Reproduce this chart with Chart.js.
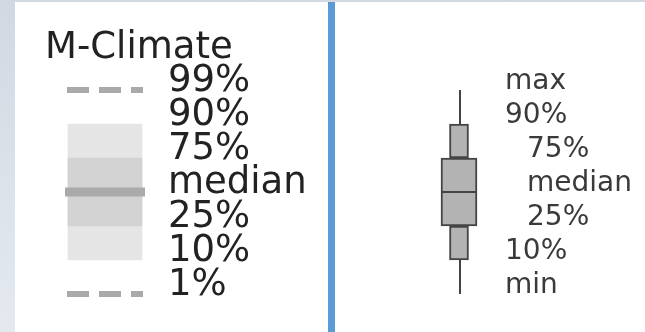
<!DOCTYPE html>
<html>
<head>
<meta charset="utf-8">
<script src="https://cdn.jsdelivr.net/npm/chart.js@4/dist/chart.umd.min.js"></script>
<style>
  html, body { margin: 0; padding: 0; }
  body {
    width: 645px; height: 332px; overflow: hidden; position: relative;
    background: linear-gradient(180deg, #d2d8e2 0%, #dde3eb 60%, #e4e9f0 100%);
  }
  .panel { position: absolute; top: 2px; bottom: 0; background: #fff; }
  #left { left: 15px; width: 313px; }
  #sep { position: absolute; top: 2px; bottom: 0; left: 328px; width: 7px; background: #5b9bd5; }
  #right { left: 335px; right: 0; }
  canvas { position: absolute; left: 0; top: 0; }
</style>
</head>
<body>
<div class="panel" id="left"></div>
<div id="sep"></div>
<div class="panel" id="right"></div>
<canvas id="myChart" width="645" height="332"></canvas>
<script>
// legend levels, top to bottom (6 = highest)
const levels = [6, 5, 4, 3, 2, 1, 0];
const climateTitle = "M-Climate";
const climateLabels = ["99%", "90%", "75%", "median", "25%", "10%", "1%"];
const boxLabels = ["max", "90%", "75%", "median", "25%", "10%", "min"];

// where the two legend glyphs sit on the x axis
const climateX = 105;
const boxX = 459;

const lvl = (name) => levels[climateLabels.indexOf(name)];
const blvl = (name) => levels[boxLabels.indexOf(name)];

const labelPlugin = {
  id: "legendText",
  afterDatasetsDraw(chart) {
    const ctx = chart.ctx;
    const xs = chart.scales.x;
    const ys = chart.scales.y;
    ctx.save();
    ctx.textBaseline = "alphabetic";
    ctx.textAlign = "left";

    // left block
    ctx.fillStyle = "#222";
    ctx.font = "37px 'DejaVu Sans'";
    ctx.fillText(climateTitle, xs.getPixelForValue(45), ys.getPixelForValue(levels[0]) - 32);
    climateLabels.forEach((t, i) => {
      ctx.fillText(t, xs.getPixelForValue(168), ys.getPixelForValue(levels[i]) + 1);
    });

    // right block
    ctx.fillStyle = "#3a3a3a";
    ctx.font = "28px 'DejaVu Sans'";
    const indented = ["75%", "median", "25%"];
    boxLabels.forEach((t, i) => {
      const x = indented.includes(t) ? 527 : 505;
      ctx.fillText(t, xs.getPixelForValue(x), ys.getPixelForValue(levels[i]) - 1);
    });
    ctx.restore();
  },
};

const hline = (x0, x1, y, color, width, dash) => ({
  type: "line",
  data: [{ x: x0, y: y }, { x: x1, y: y }],
  borderColor: color,
  borderWidth: width,
  borderDash: dash || [],
  borderCapStyle: "butt",
  pointRadius: 0,
  fill: false,
});

const vline = (x, y0, y1) => ({
  type: "line",
  data: [{ x: x, y: y0 }, { x: x, y: y1 }],
  borderColor: "#444",
  borderWidth: 2,
  pointRadius: 0,
  fill: false,
});

const box = (x, lo, hi, width, fillColor, border) => ({
  type: "bar",
  data: [{ x: x, y: [lo, hi] }],
  backgroundColor: fillColor,
  borderColor: border ? "#444" : fillColor,
  borderWidth: border ? 2 : 0,
  borderSkipped: false,
  barThickness: width,
  grouped: false,
});

// listed in paint order (first = bottom)
const layers = [
  // M-Climate glyph
  box(climateX, lvl("10%"), lvl("90%"), 74, "#e5e5e5", false),
  box(climateX, lvl("25%"), lvl("75%"), 74, "#d2d2d2", false),
  hline(65, 145, lvl("median"), "#aaaaaa", 9),
  hline(67, 143, lvl("99%"), "#aaaaaa", 6, [22, 10]),
  hline(67, 143, lvl("1%"), "#aaaaaa", 6, [22, 10]),
  // box and whisker glyph
  vline(boxX + 1, blvl("max"), blvl("90%")),
  vline(boxX + 1, blvl("10%"), blvl("min")),
  box(boxX, blvl("75%"), blvl("90%"), 19, "#b3b3b3", true),
  box(boxX, blvl("10%"), blvl("25%"), 19, "#b3b3b3", true),
  box(boxX, blvl("25%"), blvl("75%"), 36, "#b3b3b3", true),
  hline(441, 477, blvl("median"), "#444", 2),
];
// Chart.js paints the first dataset on top, so give later layers a lower order
const datasets = layers.map((d, i) => Object.assign(d, { order: layers.length - i }));

new Chart(document.getElementById("myChart"), {
  type: "bar",
  data: { datasets },
  plugins: [labelPlugin],
  options: {
    responsive: false,
    animation: false,
    layout: { padding: 0 },
    plugins: { legend: { display: false }, tooltip: { enabled: false } },
    scales: {
      x: { type: "linear", display: false, offset: false, min: 0, max: 645 },
      y: { type: "linear", display: false, min: -38 / 34, max: 294 / 34 },
    },
  },
});
</script>
</body>
</html>
